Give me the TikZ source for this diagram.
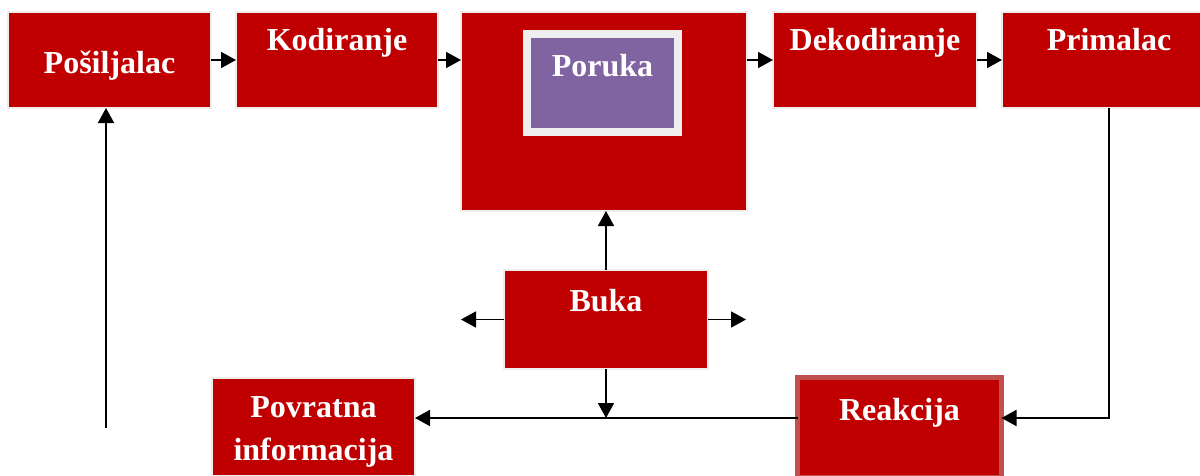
\documentclass[tikz,border=0pt]{standalone}
\usepackage{fontspec}
\setmainfont{Liberation Serif}
\usetikzlibrary{arrows.meta,positioning}
\definecolor{boxred}{RGB}{192,0,0}
\definecolor{msgpurple}{RGB}{128,100,162}
\definecolor{framegray}{RGB}{238,238,238}
\definecolor{edgepink}{RGB}{192,80,77}
\tikzset{
  box/.style={draw=framegray, line width=2pt, fill=boxred, text=white, inner sep=0pt, outer sep=0pt,
    align=center, anchor=north west, font=\bfseries\fontsize{32}{43}\selectfont},
  stage/.style={box, minimum height=96pt, text height=38pt, text depth=58pt},
  msg/.style={box, draw=framegray, line width=8pt, fill=msgpurple},
  react/.style={box, draw=edgepink, line width=5pt},
  arrow/.style={-{Triangle[length=15pt,width=16pt]}, line width=1.8pt},
}

\begin{document}
\begin{tikzpicture}[x=1pt, y=-1pt]
  \useasboundingbox (0,0) rectangle (1200,475);

  % Nodes
  \node[box, minimum width=203pt, minimum height=96pt, text height=61pt, text depth=35pt] (posiljalac) at (8,12) {Pošiljalac};
  \node[stage, minimum width=202pt, right=25pt of posiljalac.north east, anchor=north west] (kodiranje) {Kodiranje};
  \node[box, minimum width=286pt, minimum height=199pt, right=23pt of kodiranje.north east, anchor=north west] (poruka) {};
  \node[msg, minimum width=151pt, text height=42.5pt, text depth=55.5pt,
    below right=21.5pt and 66pt of poruka.north west, anchor=north west] (porukatekst) {Poruka};
  \node[stage, minimum width=204pt, right=26pt of poruka.north east, anchor=north west] (dekodiranje) {Dekodiranje};
  \node[stage, minimum width=214pt, right=25pt of dekodiranje.north east, anchor=north west] (primalac) {Primalac};

  \node[box, minimum width=204pt, minimum height=99pt, text height=41pt, text depth=58pt,
    below=59pt of poruka, anchor=north, xshift=2pt] (buka) {Buka};
  \node[box, minimum width=203pt, minimum height=98pt, text height=82pt, text depth=16pt] (povratna) at (212,378) {Povratna\\informacija};
  \node[react, minimum width=204pt, minimum height=100pt, text height=42.5pt, text depth=57.5pt] (reakcija) at (797.5,377.5) {Reakcija};

  \coordinate (fb) at (606,418);
  \coordinate (fbstart) at (106,428);
  \coordinate[left=43pt of buka.west] (bukalijevo);
  \coordinate[right=38pt of buka.east] (bukadesno);

  % Arrows
  \draw[arrow] (posiljalac) -- (kodiranje);
  \draw[arrow] (kodiranje.east) -- (kodiranje.east -| poruka.west);
  \draw[arrow] (poruka.east |- dekodiranje.west) -- (dekodiranje.west);
  \draw[arrow] (dekodiranje) -- (primalac);
  \draw[arrow] (primalac.south) |- (reakcija.east |- fb);
  \draw[arrow] (reakcija.west |- fb) -- (povratna.east |- fb);
  \draw[arrow] (buka.south) -- (fb);
  \draw[arrow] (buka.north) -- (buka.north |- poruka.south);
  \draw[arrow] (buka.west) -- (bukalijevo);
  \draw[arrow] (buka.east) -- (bukadesno);
  \draw[arrow] (fbstart) -- (fbstart |- posiljalac.south);
\end{tikzpicture}
\end{document}
